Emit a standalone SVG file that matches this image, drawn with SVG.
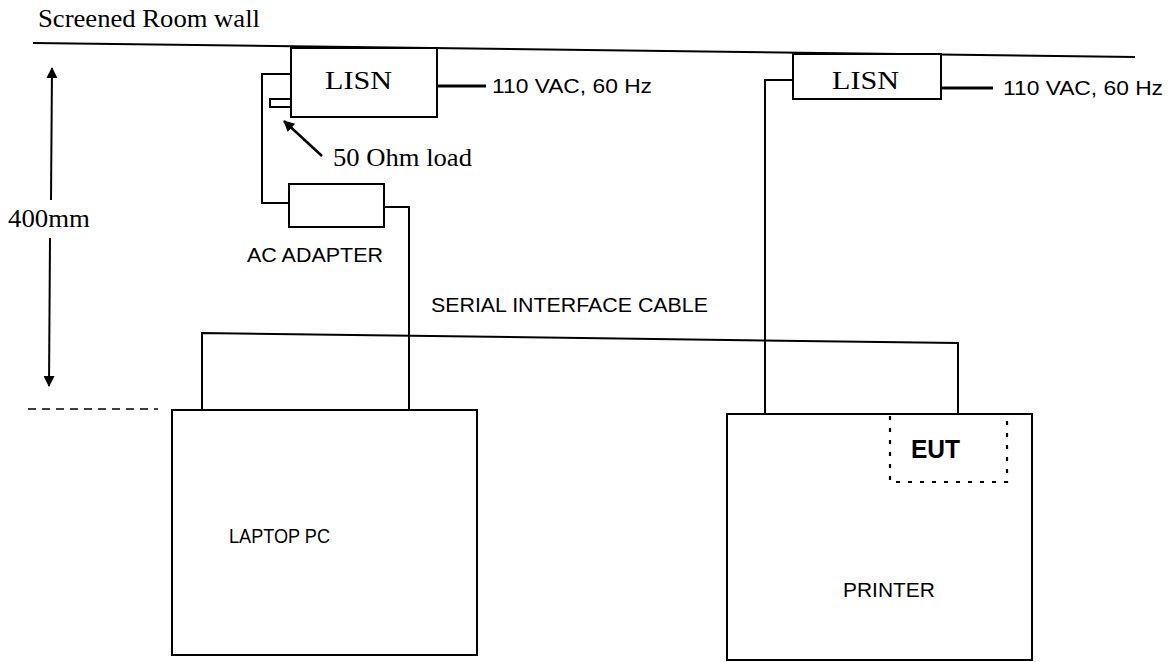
<svg xmlns="http://www.w3.org/2000/svg" width="1172" height="662" viewBox="0 0 1172 662">
<style>
.ln{fill:none;stroke:#000;stroke-width:2}
.box{fill:#fff;stroke:#000;stroke-width:2}
.serif{font-family:"Liberation Serif","Times New Roman",serif;font-size:25px;fill:#000}
.sans{font-family:"Liberation Sans",Arial,sans-serif;font-size:20px;fill:#000}
.dash{fill:none;stroke:#000;stroke-width:2.2;stroke-dasharray:4 8}
</style>
<defs>
<marker id="ah2" viewBox="0 0 12 12" refX="11" refY="6" markerWidth="13" markerHeight="11" markerUnits="userSpaceOnUse" orient="auto">
<path d="M0,0 L12,6 L0,12 z" fill="#000"/>
</marker>
</defs>
<rect width="1172" height="662" fill="#fff"/>

<g id="wall">
<text class="serif" x="38" y="27" textLength="222" lengthAdjust="spacingAndGlyphs">Screened Room wall</text>
<line class="ln" x1="33" y1="43" x2="1135" y2="57"/>
</g>

<g id="dimension">
<line class="ln" x1="51" y1="200" x2="52" y2="68" marker-end="url(#ah2)"/>
<line class="ln" x1="50" y1="238" x2="49" y2="386" marker-end="url(#ah2)"/>
<text class="serif" x="8" y="227" textLength="82" lengthAdjust="spacingAndGlyphs">400mm</text>
<line x1="28" y1="409" x2="158" y2="409" stroke="#000" stroke-width="1.6" stroke-dasharray="8 6"/>
</g>

<g id="connectors">
<path class="ln" d="M291,74 H262 V203 H289"/>
<path class="ln" d="M384,207 H409 V410"/>
<path class="ln" d="M202,410 V333 L958,343 V415"/>
<path class="ln" d="M793,80 H765 V414"/>
<line x1="437" y1="86" x2="486" y2="86" stroke="#000" stroke-width="3"/>
<line x1="941" y1="88" x2="993" y2="88" stroke="#000" stroke-width="3"/>
<line x1="322" y1="156" x2="284" y2="121" stroke="#000" stroke-width="2.5" marker-end="url(#ah2)"/>
</g>

<g id="lisn1">
<rect class="box" x="291" y="48" width="146" height="69"/>
<text class="serif" x="325" y="89" textLength="67" lengthAdjust="spacingAndGlyphs">LISN</text>
<text class="sans" x="492" y="93" textLength="160" lengthAdjust="spacingAndGlyphs">110 VAC,  60 Hz</text>
</g>

<g id="load">
<rect class="box" x="270" y="99" width="21" height="8"/>
<text class="serif" x="333" y="166" textLength="139" lengthAdjust="spacingAndGlyphs">50 Ohm load</text>
</g>

<g id="lisn2">
<rect class="box" x="793" y="54" width="148" height="45"/>
<text class="serif" x="832" y="89" textLength="67" lengthAdjust="spacingAndGlyphs">LISN</text>
<text class="sans" x="1003" y="95" textLength="160" lengthAdjust="spacingAndGlyphs">110 VAC,  60 Hz</text>
</g>

<g id="adapter">
<rect class="box" x="289" y="184" width="95" height="43"/>
<text class="sans" x="247" y="262" textLength="136" lengthAdjust="spacingAndGlyphs">AC ADAPTER</text>
</g>

<g id="cable-label">
<text class="sans" x="431" y="312" textLength="277" lengthAdjust="spacingAndGlyphs">SERIAL INTERFACE CABLE</text>
</g>

<g id="laptop">
<rect class="box" x="172" y="410" width="305" height="245"/>
<text class="sans" x="229" y="543" textLength="101" lengthAdjust="spacingAndGlyphs">LAPTOP PC</text>
</g>

<g id="printer">
<rect class="box" x="727" y="414" width="305" height="246"/>
<text class="sans" x="843" y="597" textLength="92" lengthAdjust="spacingAndGlyphs">PRINTER</text>
<path class="dash" d="M890,416 V482 H1007 V416"/>
<text x="911" y="458" font-family="Liberation Sans, Arial, sans-serif" font-weight="bold" font-size="25" textLength="49" lengthAdjust="spacingAndGlyphs">EUT</text>
</g>
</svg>
